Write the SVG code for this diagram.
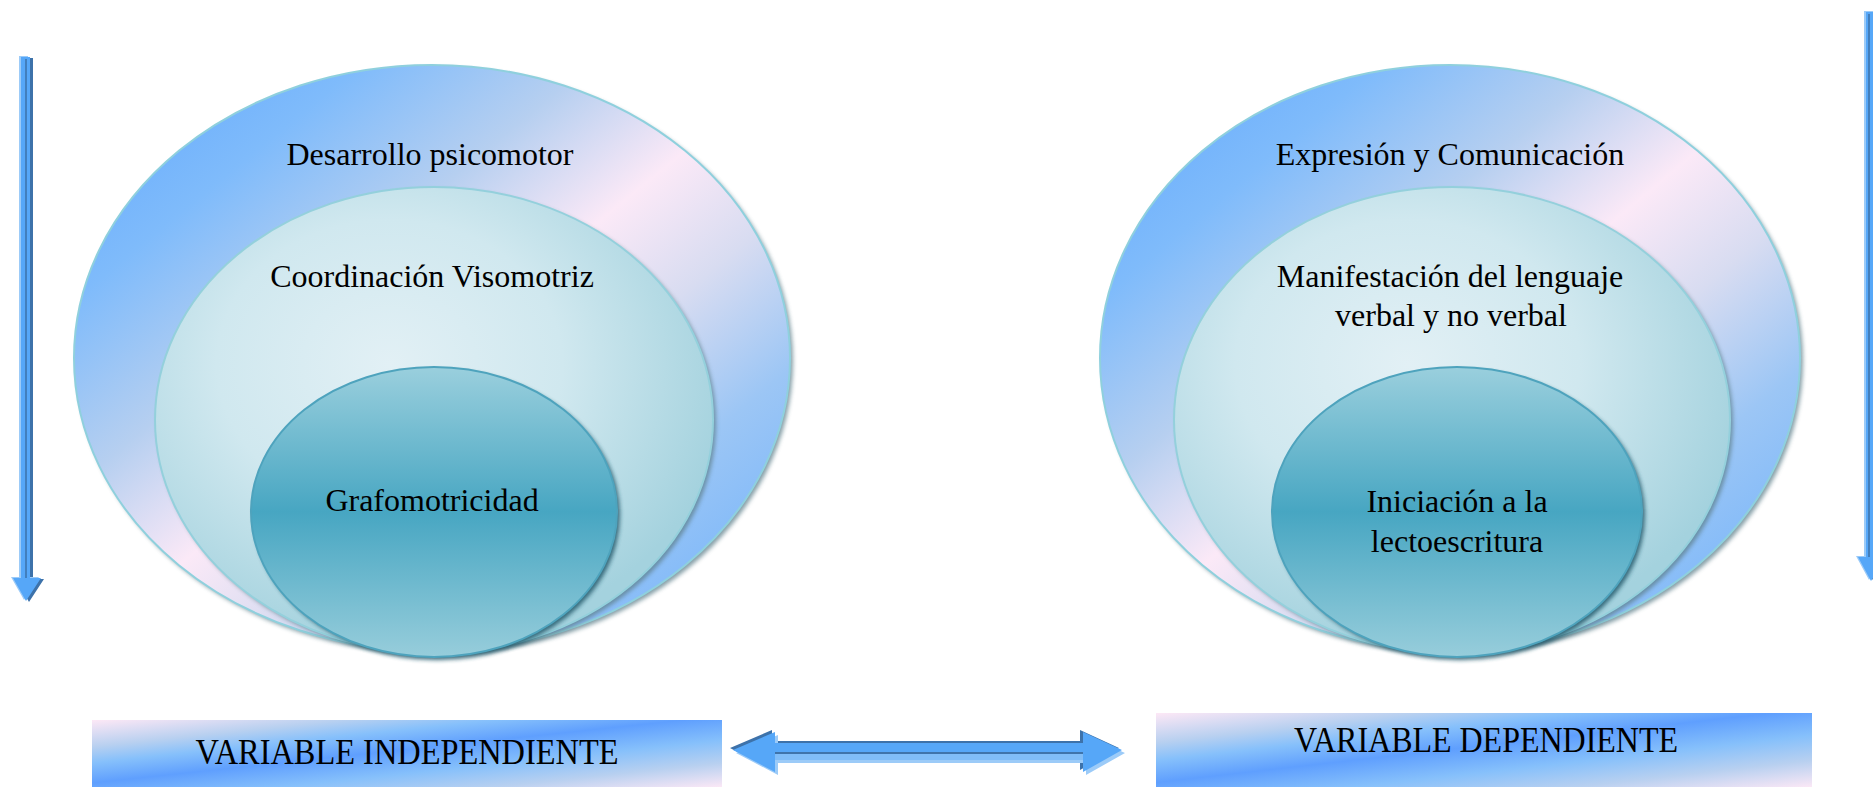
<svg xmlns="http://www.w3.org/2000/svg" width="1873" height="787" viewBox="0 0 1873 787">
<defs>
<linearGradient id="gOuter" x1="0" y1="0" x2="1" y2="1">
<stop offset="0" stop-color="#5ea6fd"/>
<stop offset="0.2" stop-color="#7fbbfb"/>
<stop offset="0.36" stop-color="#b6cff0"/>
<stop offset="0.5" stop-color="#fbe9f7"/>
<stop offset="0.62" stop-color="#d8dcf1"/>
<stop offset="0.76" stop-color="#9cc6f5"/>
<stop offset="1" stop-color="#68aefd"/>
</linearGradient>
<radialGradient id="gMid" cx="0.42" cy="0.38" r="0.62">
<stop offset="0" stop-color="#e2f0f5"/>
<stop offset="0.5" stop-color="#d0e8ef"/>
<stop offset="1" stop-color="#a4d2de"/>
</radialGradient>
<linearGradient id="gInner" x1="0" y1="0" x2="0" y2="1">
<stop offset="0" stop-color="#9acfdd"/>
<stop offset="0.5" stop-color="#47a6c2"/>
<stop offset="1" stop-color="#97cddb"/>
</linearGradient>
<linearGradient id="gBox" x1="0" y1="0" x2="1" y2="1">
<stop offset="0" stop-color="#fde8f6"/>
<stop offset="0.2" stop-color="#b8d0f0"/>
<stop offset="0.32" stop-color="#86c0fb"/>
<stop offset="0.47" stop-color="#5f9ffe"/>
<stop offset="0.65" stop-color="#86c0fb"/>
<stop offset="0.82" stop-color="#b8d0f0"/>
<stop offset="1" stop-color="#fbe8f6"/>
</linearGradient>
<filter id="blur" x="-10%" y="-10%" width="120%" height="120%">
<feGaussianBlur stdDeviation="2"/>
</filter>
</defs>
<style>
.t{font-family:"Liberation Serif","Times New Roman",serif;font-size:32px;fill:#000;text-anchor:middle}
.tb{font-family:"Liberation Serif","Times New Roman",serif;font-size:36px;fill:#000;text-anchor:middle}
.outer{fill:url(#gOuter);stroke:#8fd0dd;stroke-width:2}
.mid{fill:url(#gMid);stroke:#94d0dc;stroke-width:2}
.inner{fill:url(#gInner);stroke:#4ea3bd;stroke-width:2}
.sh{fill:#5d7f8a;opacity:0.75;filter:url(#blur)}
.shi{fill:#22586a;opacity:0.85;filter:url(#blur)}
.box{fill:url(#gBox)}
.ar{fill:#56a7f8}
.ard{fill:#3d72aa}
.arl{fill:#9ccbf8}
</style>
<rect width="1873" height="787" fill="#ffffff"/>

<g id="left-outer">
<ellipse class="sh" cx="435" cy="361" rx="358" ry="293"/>
<ellipse class="outer" cx="432" cy="358" rx="358" ry="293"/>
<text class="t" x="430" y="165">Desarrollo psicomotor</text>
</g>
<g id="left-middle">
<ellipse class="sh" cx="437" cy="423" rx="279" ry="233"/>
<ellipse class="mid" cx="434" cy="420" rx="279" ry="233"/>
<text class="t" x="432" y="287">Coordinación Visomotriz</text>
</g>
<g id="left-inner">
<ellipse class="shi" cx="437" cy="515" rx="183" ry="145"/>
<ellipse class="inner" cx="434" cy="512" rx="183" ry="145"/>
<text class="t" x="432" y="511">Grafomotricidad</text>
</g>

<g id="right-outer">
<ellipse class="sh" cx="1453" cy="361" rx="350" ry="293"/>
<ellipse class="outer" cx="1450" cy="358" rx="350" ry="293"/>
<text class="t" x="1450" y="165">Expresión y Comunicación</text>
</g>
<g id="right-middle">
<ellipse class="sh" cx="1455" cy="423" rx="278" ry="233"/>
<ellipse class="mid" cx="1452" cy="420" rx="278" ry="233"/>
<text class="t" x="1450" y="287">Manifestación del lenguaje</text>
<text class="t" x="1451" y="326">verbal y no verbal</text>
</g>
<g id="right-inner">
<ellipse class="shi" cx="1460" cy="515" rx="185" ry="145"/>
<ellipse class="inner" cx="1457" cy="512" rx="185" ry="145"/>
<text class="t" x="1457" y="512">Iniciación a la</text>
<text class="t" x="1457" y="552">lectoescritura</text>
</g>

<g id="box-independiente">
<rect class="box" x="92" y="720" width="630" height="67"/>
<text class="tb" x="407" y="764" textLength="423" lengthAdjust="spacingAndGlyphs">VARIABLE INDEPENDIENTE</text>
</g>
<g id="box-dependiente">
<rect class="box" x="1156" y="713" width="656" height="74"/>
<text class="tb" x="1486" y="752" textLength="384" lengthAdjust="spacingAndGlyphs">VARIABLE DEPENDIENTE</text>
</g>

<g id="connectors">
<g id="arrow-double">
<polygon class="ard" transform="translate(-3,-2)" points="733,750 775,732 775,743 1083,743 1083,732 1122,750 1083,772 1083,760 775,760 775,772"/>
<polygon class="arl" transform="translate(3,3)" points="733,750 775,732 775,743 1083,743 1083,732 1122,750 1083,772 1083,760 775,760 775,772"/>
<polygon class="ar" points="733,750 775,732 775,743 1083,743 1083,732 1122,750 1083,772 1083,760 775,760 775,772"/>
<rect x="775" y="754" width="308" height="6" fill="#80bdf8"/>
<line x1="775" y1="753" x2="1083" y2="753" stroke="#3f74ab" stroke-width="2"/>
</g>
<g id="arrow-left">
<polygon class="ard" transform="translate(3,1)" points="21,57 30,57 30,578 41,578 26,601 13,578 21,578"/>
<polygon class="arl" transform="translate(-2,-1)" points="21,57 30,57 30,578 41,578 26,601 13,578 21,578"/>
<polygon class="ar" points="21,57 30,57 30,578 41,578 26,601 13,578 21,578"/>
<line x1="26" y1="59" x2="26" y2="578" stroke="#3d72aa" stroke-width="1.5"/>
</g>
<g id="arrow-right">
<polygon class="ard" transform="translate(3,1)" points="1866,12 1875,12 1875,557 1886,557 1871,581 1858,557 1866,557"/>
<polygon class="arl" transform="translate(-2,-1)" points="1866,12 1875,12 1875,557 1886,557 1871,581 1858,557 1866,557"/>
<polygon class="ar" points="1866,12 1875,12 1875,557 1886,557 1871,581 1858,557 1866,557"/>
<line x1="1869" y1="14" x2="1869" y2="557" stroke="#3d72aa" stroke-width="1.5"/>
</g>
</g>
</svg>
